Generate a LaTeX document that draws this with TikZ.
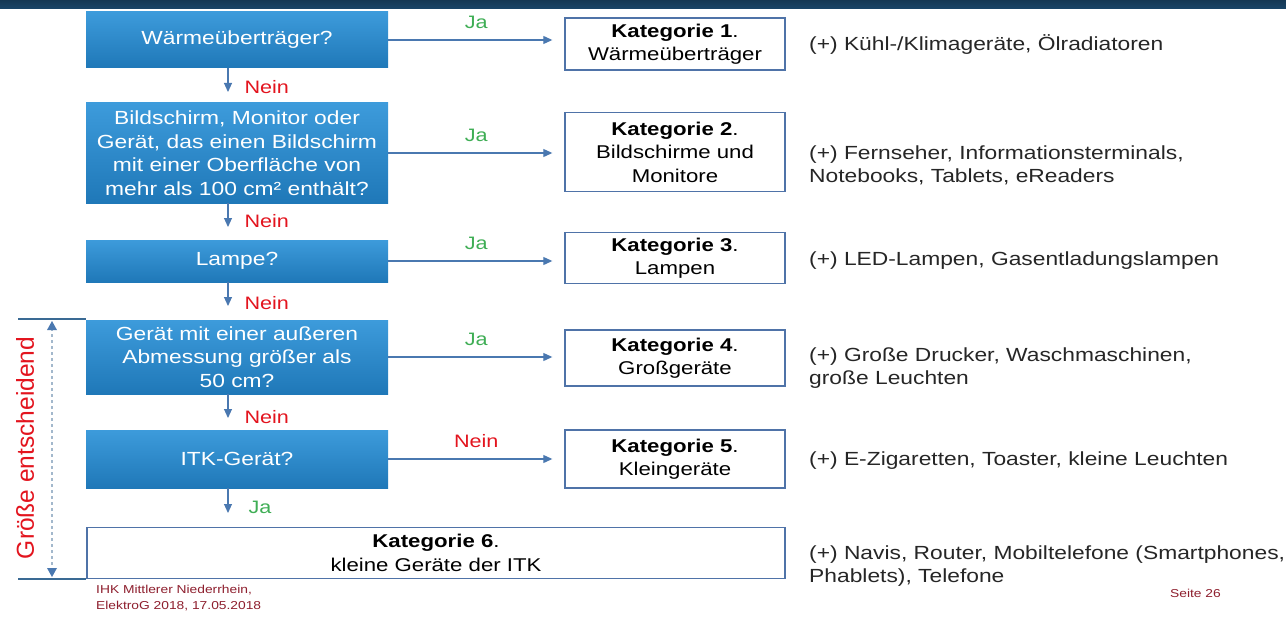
\documentclass[tikz,border=0pt]{standalone}
\usepackage{fontspec}
\setmainfont{Liberation Sans}[FakeStretch=1.2]
\newfontfamily\seitfont{Liberation Sans}
\usetikzlibrary{arrows.meta, positioning}
\definecolor{balken}{HTML}{1A4568}
\definecolor{hellblau}{HTML}{3D9BDB}
\definecolor{mittelblau}{HTML}{3590D2}
\definecolor{dunkelblau}{HTML}{1F78B8}
\definecolor{rahmen}{HTML}{4F73A8}
\definecolor{pfeilblau}{HTML}{4A78B0}
\definecolor{jagruen}{HTML}{3FAE55}
\definecolor{neinrot}{HTML}{E3141E}
\definecolor{fussrot}{HTML}{8E1F2E}
\definecolor{strich}{HTML}{3A6A94}
\definecolor{gestrichelt}{HTML}{A3B8CC}
\definecolor{schrift}{HTML}{262626}
\tikzset{
  frage/.style={rectangle, minimum width=302pt, inner sep=0pt, top color=hellblau,
    middle color=mittelblau, bottom color=dunkelblau, text=white, align=center,
    font=\fontsize{19}{23.5}\selectfont},
  kat/.style={rectangle, draw=rahmen, line width=1.4pt, minimum width=220pt, inner sep=0pt,
    fill=white, text=black, align=center, font=\fontsize{18.5}{23.5}\selectfont},
  info/.style={anchor=west, inner sep=0pt, text=schrift, align=left,
    font=\fontsize{19}{23}\selectfont},
  pfeil/.style={draw=pfeilblau, line width=1.1pt, -{Triangle[length=9pt,width=8pt]}},
  ja/.style={text=jagruen, inner sep=0pt, font=\fontsize{18}{20}\selectfont},
  nein/.style={text=neinrot, inner sep=0pt, font=\fontsize{18}{20}\selectfont},
}
\begin{document}
\begin{tikzpicture}[x=1pt, y=-1pt]
\useasboundingbox (0,0) rectangle (1286,618);
\fill[white] (0,0) rectangle (1286,618);
\shade[top color=balken!80!black, bottom color=balken] (0,0) rectangle (1286,9);

% Fragen
\node[frage, minimum height=56pt] (q1) at (237,40) {Wärmeüberträger?};
\node[frage, minimum height=100pt] (q2) at (237,153) {Bildschirm, Monitor oder\\Gerät, das einen Bildschirm\\mit einer Oberfläche von\\mehr als 100 cm² enthält?};
\node[frage, minimum height=42pt] (q3) at (237,261) {Lampe?};
\node[frage, minimum height=74pt] (q4) at (237,357) {Gerät mit einer außeren\\Abmessung größer als\\50 cm?};
\node[frage, minimum height=58pt] (q5) at (237,459) {ITK-Gerät?};

% Kategorien
\node[kat, minimum height=52pt] (k1) at (675,44) {\textbf{Kategorie 1}.\\Wärmeüberträger};
\node[kat, minimum height=79pt] (k2) at (675,152) {\textbf{Kategorie 2}.\\Bildschirme und\\Monitore};
\node[kat, minimum height=51pt] (k3) at (675,258) {\textbf{Kategorie 3}.\\Lampen};
\node[kat, minimum height=56pt] (k4) at (675,358) {\textbf{Kategorie 4}.\\Großgeräte};
\node[kat, minimum height=58pt] (k5) at (675,459) {\textbf{Kategorie 5}.\\Kleingeräte};
\node[kat, minimum height=51pt, minimum width=698pt] (k6) at (436,553) {\textbf{Kategorie 6}.\\kleine Geräte der ITK};

% Beispiele
\node[info] (b1) at (809,45) {(+) Kühl-/Klimageräte, Ölradiatoren};
\node[info] (b2) at (809,165) {(+) Fernseher, Informationsterminals,\\Notebooks, Tablets, eReaders};
\node[info] (b3) at (809,261) {(+) LED-Lampen, Gasentladungslampen};
\node[info] (b4) at (809,368) {(+) Große Drucker, Waschmaschinen,\\große Leuchten};
\node[info] (b5) at (809,461) {(+) E-Zigaretten, Toaster, kleine Leuchten};
\node[info] (b6) at (809,566) {(+) Navis, Router, Mobiltelefone (Smartphones,\\Phablets), Telefone};

% Ja / Nein nach rechts
\foreach \q/\k/\s/\t in {q1/k1/ja/Ja, q2/k2/ja/Ja, q3/k3/ja/Ja, q4/k4/ja/Ja, q5/k5/nein/Nein}
  \draw[pfeil, shorten >=12pt] (\q.east) -- (\q.east -| \k.west)
    node[\s, midway, above=11pt] {\t};

% nach unten
\coordinate (d1) at (228,92);
\coordinate (d2) at (228,227);
\coordinate (d3) at (228,306);
\coordinate (d4) at (228,418);
\coordinate (d5) at (228,513);
\draw[pfeil] (d1 |- q1.south) -- (d1) node[nein, anchor=west] at (244,87) {Nein};
\draw[pfeil] (d2 |- q2.south) -- (d2) node[nein, anchor=west] at (244,221) {Nein};
\draw[pfeil] (d3 |- q3.south) -- (d3) node[nein, anchor=west] at (244,303) {Nein};
\draw[pfeil] (d4 |- q4.south) -- (d4) node[nein, anchor=west] at (244,417) {Nein};
\draw[pfeil] (d5 |- q5.south) -- (d5) node[ja, anchor=west] at (248,507) {Ja};

% Groesse entscheidend
\coordinate (g1) at (18,319);
\coordinate (g2) at (18,579);
\draw[strich, line width=2pt] (g1) -- (g1 -| q4.west);
\draw[strich, line width=2pt] (g2) -- (g2 -| k6.west);
\draw[gestrichelt, line width=1.3pt, dashed] (52,328) -- (52,570);
\fill[pfeilblau] (52,321) -- (47,330) -- (57,330) -- cycle;
\fill[pfeilblau] (52,577) -- (47,568) -- (57,568) -- cycle;
\node[rotate=90, text=neinrot, inner sep=0pt, font=\seitfont\fontsize{24.5}{26}\selectfont] (groesse) at (25,448) {Größe entscheidend};

% Fusszeile
\node[anchor=west, inner sep=0pt, text=fussrot, align=left, font=\fontsize{11.5}{16.5}\selectfont] (fuss) at (96,598) {IHK Mittlerer Niederrhein,\\ElektroG 2018, 17.05.2018};
\node[anchor=west, inner sep=0pt, text=fussrot, font=\fontsize{11.5}{14}\selectfont] (seite) at (1170,593) {Seite 26};
\end{tikzpicture}
\end{document}
